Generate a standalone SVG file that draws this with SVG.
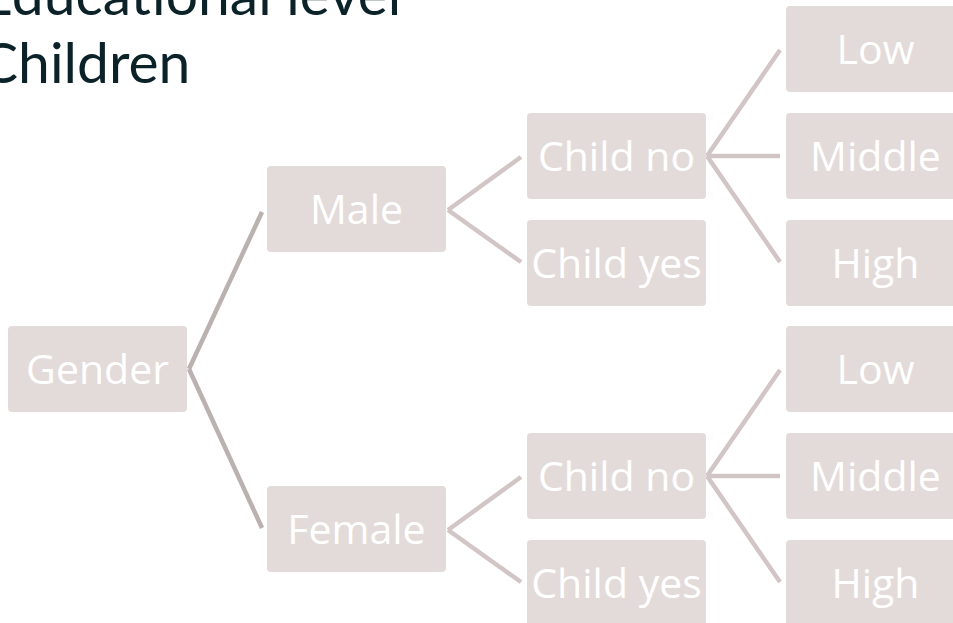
<svg xmlns="http://www.w3.org/2000/svg" width="953" height="623" viewBox="0 0 953 623">
<style>
.box{fill:#e3dbd9}
.lbl{font-family:"Open Sans","Noto Sans",sans-serif;font-size:41px;fill:#ffffff;text-anchor:middle}
.title{font-family:Lato,"Open Sans",sans-serif;font-size:57px;fill:#0b2228}
.c1{stroke:#bab2af;stroke-width:4.5;fill:none}
.c2{stroke:#d1c6c5;stroke-width:4.5;fill:none}
</style>
<rect width="953" height="623" fill="#ffffff"/>
<text class="title" x="-20" y="15">Educational level</text>
<text class="title" x="-20" y="83">Children</text>
<g id="connectors">
<line class="c1" x1="189" y1="369" x2="262" y2="212"/>
<line class="c1" x1="189" y1="369" x2="262" y2="528"/>
<line class="c2" x1="448" y1="210" x2="521" y2="157"/>
<line class="c2" x1="448" y1="210" x2="521" y2="262"/>
<line class="c2" x1="448" y1="530" x2="521" y2="477"/>
<line class="c2" x1="448" y1="530" x2="521" y2="582"/>
<line class="c2" x1="707" y1="156" x2="780" y2="50"/>
<line class="c2" x1="707" y1="156" x2="780" y2="156"/>
<line class="c2" x1="707" y1="156" x2="780" y2="262"/>
<line class="c2" x1="707" y1="476" x2="780" y2="370"/>
<line class="c2" x1="707" y1="476" x2="780" y2="476"/>
<line class="c2" x1="707" y1="476" x2="780" y2="582"/>
</g>
<g id="gender"><rect class="box" x="8" y="326" width="179" height="86" rx="4"/><text class="lbl" x="97.5" y="384">Gender</text></g>
<g id="male"><rect class="box" x="267" y="166" width="179" height="86" rx="4"/><text class="lbl" x="356.5" y="224">Male</text></g>
<g id="female"><rect class="box" x="267" y="486" width="179" height="86" rx="4"/><text class="lbl" x="356.5" y="544">Female</text></g>
<g id="m-child-no"><rect class="box" x="527" y="113" width="179" height="86" rx="4"/><text class="lbl" x="616.5" y="171">Child no</text></g>
<g id="m-child-yes"><rect class="box" x="527" y="220" width="179" height="86" rx="4"/><text class="lbl" x="616.5" y="278">Child yes</text></g>
<g id="f-child-no"><rect class="box" x="527" y="433" width="179" height="86" rx="4"/><text class="lbl" x="616.5" y="491">Child no</text></g>
<g id="f-child-yes"><rect class="box" x="527" y="540" width="179" height="86" rx="4"/><text class="lbl" x="616.5" y="598">Child yes</text></g>
<g id="m-low"><rect class="box" x="786" y="6" width="179" height="86" rx="4"/><text class="lbl" x="875.5" y="64">Low</text></g>
<g id="m-middle"><rect class="box" x="786" y="113" width="179" height="86" rx="4"/><text class="lbl" x="875.5" y="171">Middle</text></g>
<g id="m-high"><rect class="box" x="786" y="220" width="179" height="86" rx="4"/><text class="lbl" x="875.5" y="278">High</text></g>
<g id="f-low"><rect class="box" x="786" y="326" width="179" height="86" rx="4"/><text class="lbl" x="875.5" y="384">Low</text></g>
<g id="f-middle"><rect class="box" x="786" y="433" width="179" height="86" rx="4"/><text class="lbl" x="875.5" y="491">Middle</text></g>
<g id="f-high"><rect class="box" x="786" y="540" width="179" height="86" rx="4"/><text class="lbl" x="875.5" y="598">High</text></g>
</svg>
